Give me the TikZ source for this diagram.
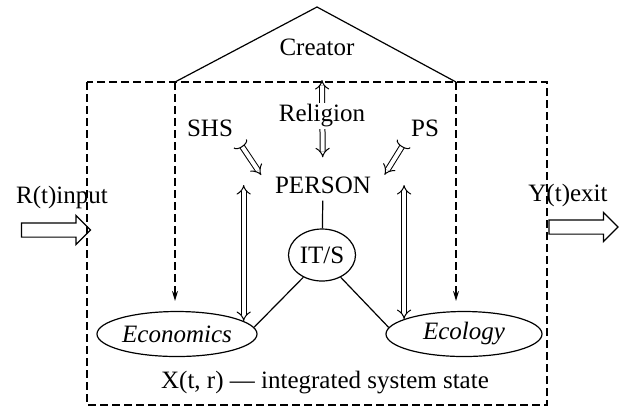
\documentclass[tikz,border=0pt]{standalone}
\usepackage{fontspec}
\setmainfont{Liberation Serif}
\usetikzlibrary{arrows.meta,shapes.geometric,shapes.arrows}

\begin{document}
\begin{tikzpicture}[x=0.5pt,y=-0.5pt,line width=0.6pt,
                    font=\fontsize{12.5}{15}\selectfont,
                    oval/.style={ellipse,draw,inner sep=0pt},
                    dbl/.style={double,double distance=2pt,line width=0.5pt},
                    cup/.tip={Arc Barb[reversed,width=8pt,length=2pt]},
                    frame/.style={dash pattern=on 4pt off 2pt},
                    flow/.style={single arrow,draw,inner xsep=0pt,inner ysep=3.25pt,
                                 minimum height=34.5pt,single arrow head extend=3.75pt}]
  \useasboundingbox (0,0) rectangle (619,409);
  \draw[frame] (87,82) rectangle (547,405);

  \coordinate (apex) at (317,7);
  \coordinate (tl) at (175,82);
  \coordinate (tr) at (456,82);
  \coordinate (relTop) at (322,80);
  \node (creator) at (317,47) {Creator};
  \node (shs) at (210,128) {SHS};
  \node (ps) at (425,128) {PS};
  \node (person) at (323,185) {PERSON};
  \node[oval,minimum width=33.5pt,minimum height=26pt] (its) at (322,255) {IT/S};
  \node[oval,minimum width=80pt,minimum height=22.5pt] (econ) at (177,334) {\itshape Economics};
  \node[oval,minimum width=78pt,minimum height=22.5pt] (ecol) at (464,334) {\itshape Ecology};
  \node (state) at (325,383) {X(t, r) --- integrated system state};
  \node (input) at (62,197) {R(t)input};
  \node (exit) at (568,195) {Y(t)exit};
  \node[flow] (inArrow) at (52.5,230) {};
  \node[flow] (outArrow) at (580,227) {};

  \coordinate (econUp) at (econ.11 |- 0,185);
  \coordinate (ecolUp) at (ecol.166 |- 0,185);

  % creator roof and its links down to the two domains
  \draw (tl) -- (apex) -- (tr);
  \draw[frame,-{Stealth[length=5pt,width=3pt]},shorten >=5pt] (tl) -- (tl |- econ.north);
  \draw[frame,-{Stealth[length=5pt,width=3pt]},shorten >=5pt] (tr) -- (tr |- ecol.north);

  \draw[dbl,{Implies}-{Implies},shorten >=6pt] (relTop) -- (person);
  \node[fill=white,inner sep=1pt] (religion) at (322,116) {Religion};

  \draw[dbl,{cup}-{Implies},shorten >=6pt] (shs.south east) -- (person.west);
  \draw[dbl,{cup}-{Implies},shorten >=6pt] (ps.south west) -- (person.east);
  \draw[dbl,{Implies}-{Implies}] (econUp) -- (econ.11);
  \draw[dbl,{Implies}-{Implies}] (ecolUp) -- (ecol.166);

  \path
    (person) edge (its)
    (its.230) edge (econ.5)
    (its.310) edge (ecol.175);
\end{tikzpicture}
\end{document}
